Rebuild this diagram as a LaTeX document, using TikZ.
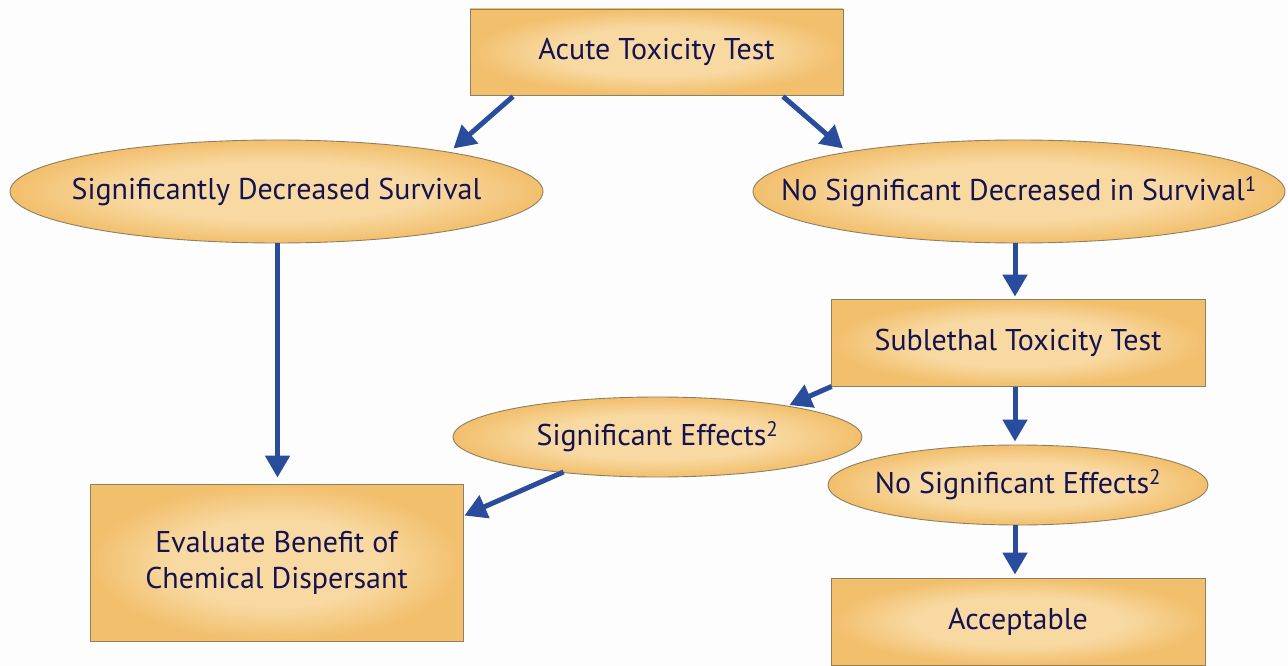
\documentclass[tikz,border=0pt]{standalone}
\usepackage{fontspec}
\setmainfont{PT Sans}
\usetikzlibrary{shapes.geometric,arrows.meta,calc}
\definecolor{bg}{HTML}{FDFDFD}
\definecolor{boxlt}{HTML}{F8D9A2}
\definecolor{boxdk}{HTML}{F2BF6C}
\definecolor{edge}{HTML}{8E7F62}
\definecolor{txt}{HTML}{15134F}
\definecolor{arr}{HTML}{2A4C9C}
\pgfdeclareradialshading{boxshade}{\pgfpoint{0bp}{0bp}}{color(0bp)=(boxlt); color(14bp)=(boxlt); color(25bp)=(boxdk); color(50bp)=(boxdk)}
\tikzset{
  base/.style={draw=edge, line width=0.9pt, shading=boxshade, text=txt, font=\fontsize{30}{36}\selectfont, align=center, inner sep=0pt},
  rbox/.style={base, rectangle},
  oval/.style={base, ellipse, inner xsep=-70pt, inner ysep=-10pt},
  flow/.style={draw=arr, line width=5pt, -{Triangle[length=22pt,width=24pt]}}
}
\begin{document}
\begin{tikzpicture}[x=1pt,y=-1pt]
\fill[bg] (0,0) rectangle (1288,666);
\useasboundingbox (0,0) rectangle (1288,666);
\node[rbox, minimum width=373pt, minimum height=86pt] (acute) at (656.5,52) {Acute Toxicity Test};
\node[oval, minimum width=533pt, minimum height=103pt] (sds) at (276.5,191.5) {Significantly Decreased Survival};
\node[oval, minimum width=532pt, minimum height=103pt] (nsd) at (1019,191.5) {No Significant Decreased in Survival\textsuperscript{1}};
\node[rbox, minimum width=374pt, minimum height=87pt] (sub) at (1018,342.5) {Sublethal Toxicity Test};
\node[oval, minimum width=409pt, minimum height=80pt] (se) at (657.5,437) {Significant Effects\textsuperscript{2}};
\node[oval, minimum width=380pt, minimum height=80pt] (nse) at (1018,485) {No Significant Effects\textsuperscript{2}};
\node[rbox, minimum width=373pt, minimum height=157pt] (eval) at (276.5,562.5) {Evaluate Benefit of\\Chemical Dispersant};
\node[rbox, minimum width=374pt, minimum height=87pt] (acc) at (1018,621.5) {Acceptable};
% connectors
\draw[flow] ($(acute.south)+(-143.5,1)$) -- ($(sds.center)+(177,-43)$);
\draw[flow] ($(acute.south)+(126.5,1)$) -- ($(nsd.center)+(-176,-43)$);
\draw[flow] ($(sds.south)+(1,0)$) -- ($(eval.north)+(1,-6)$);
\draw[flow] ($(nsd.south)+(-4,0)$) -- ($(sub.north)+(-3,-2)$);
\draw[flow] ($(sub.south west)+(1,0)$) -- ($(se.center)+(132,-32)$);
\draw[flow] ($(se.center)+(-94,35)$) -- ($(eval.north east)+(1,32)$);
\draw[flow] ($(sub.south)+(-3,1)$) -- ($(nse.north)+(-3,-3)$);
\draw[flow] ($(nse.south)+(-3,0)$) -- ($(acc.north)+(-3,-3)$);
\end{tikzpicture}
\end{document}
